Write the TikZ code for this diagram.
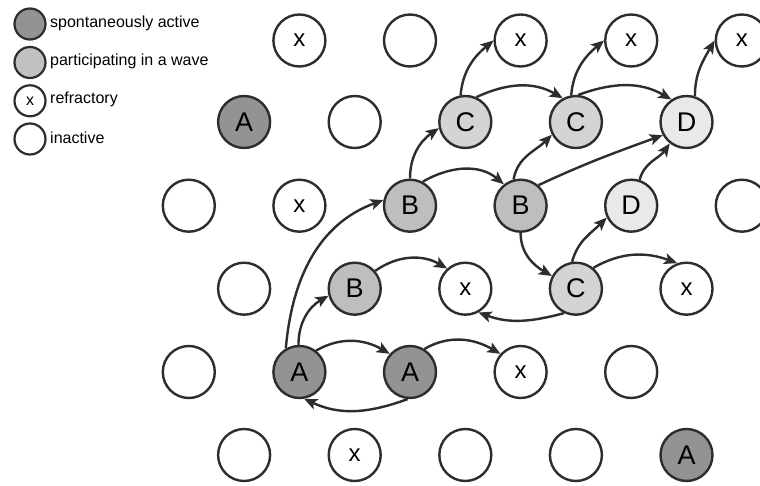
\documentclass[tikz,border=0pt]{standalone}
\usepackage{fontspec}
\setmainfont{Liberation Sans}
\usetikzlibrary{arrows.meta}
\definecolor{strokec}{RGB}{45,45,45}
\definecolor{colA}{RGB}{147,147,147}
\definecolor{colB}{RGB}{190,190,190}
\definecolor{colC}{RGB}{212,212,212}
\definecolor{colD}{RGB}{233,233,233}
\definecolor{colL}{RGB}{193,193,193}
\tikzset{
  cell/.style={circle,draw=strokec,line width=2.4pt,minimum size=52pt,inner sep=0pt,fill=white,font=\fontsize{27}{27}\selectfont},
  sA/.style={cell,fill=colA},
  sB/.style={cell,fill=colB},
  sC/.style={cell,fill=colC},
  sD/.style={cell,fill=colD},
  sX/.style={cell,font=\fontsize{24}{24}\selectfont},
  lcell/.style={circle,draw=strokec,line width=2.2pt,minimum size=31pt,inner sep=0pt,fill=white,font=\fontsize{16}{16}\selectfont},
  ltext/.style={anchor=west,inner sep=0pt,font=\fontsize{16}{19}\selectfont},
  arr/.style={draw=strokec,line width=2.4pt,-{Stealth[length=13pt,width=11pt,inset=3pt]}}
}
\begin{document}
\begin{tikzpicture}[x=1pt,y=1pt]
\clip (0,0) rectangle (760,485);
\fill[white] (0,0) rectangle (760,485);
% legend
\node[lcell,fill=colA] (l1) at (30,461) {};
\node[lcell,fill=colL] (l2) at (30,422.5) {};
\node[lcell] (l3) at (30,384.2) {x};
\node[lcell] (l4) at (30,346) {};
\node[ltext] (t1) at (50,462) {spontaneously active};
\node[ltext] (t2) at (50,423.5) {participating in a wave};
\node[ltext] (t3) at (50,385.2) {refractory};
\node[ltext] (t4) at (50,347) {inactive};
% row 0
\node[sX] (x02) at (299.4,444.5) {x};
\node[cell] (n04) at (410.0,444.5) {};
\node[sX] (x06) at (520.6,444.5) {x};
\node[sX] (x08) at (631.2,444.5) {x};
\node[sX] (x010) at (741.8,444.5) {x};
% row 1
\node[sA] (a11) at (244.1,363) {A};
\node[cell] (n13) at (354.7,363) {};
\node[sC] (c15) at (465.3,363) {C};
\node[sC] (c17) at (575.9,363) {C};
\node[sD] (d19) at (686.5,363) {D};
% row 2
\node[cell] (n20) at (188.8,279.3) {};
\node[sX] (x22) at (299.4,279.3) {x};
\node[sB] (b24) at (410.0,279.3) {B};
\node[sB] (b26) at (520.6,279.3) {B};
\node[sD] (d28) at (631.2,279.3) {D};
\node[cell] (n210) at (741.8,279.3) {};
% row 3
\node[cell] (n31) at (244.1,196.3) {};
\node[sB] (b33) at (354.7,196.3) {B};
\node[sX] (x35) at (465.3,196.3) {x};
\node[sC] (c37) at (575.9,196.3) {C};
\node[sX] (x39) at (686.5,196.3) {x};
% row 4
\node[cell] (n40) at (188.8,113) {};
\node[sA] (a42) at (299.4,113) {A};
\node[sA] (a44) at (410.0,113) {A};
\node[sX] (x46) at (520.6,113) {x};
\node[cell] (n48) at (631.2,113) {};
% row 5
\node[cell] (n51) at (244.1,30) {};
\node[sX] (x53) at (354.7,30) {x};
\node[cell] (n55) at (465.3,30) {};
\node[cell] (n57) at (575.9,30) {};
\node[sA] (a59) at (686.5,30) {A};
% connectors
\draw[arr] (a42.52) to[out=30,in=150] (a44.138);
\draw[arr] (a44.-95) to[out=-160,in=-25] (a42.-80);
\draw[arr] (a44.58) to[out=30,in=150] (x46.138);
\draw[arr] (a42.92) to[out=90,in=-150] (b33.-165);
\draw[arr] (a42.120) to[out=85,in=-160] (b24.168);
\draw[arr] (b33.41) to[out=35,in=150] (x35.132);
\draw[arr] (b24.90) to[out=90,in=-145] (c15.-167);
\draw[arr] (b24.62) to[out=30,in=140] (b26.128);
\draw[arr] (c15.100) to[out=85,in=-140] (x06.180);
\draw[arr] (c17.100) to[out=85,in=-140] (x08.180);
\draw[arr] (d19.72) to[out=90,in=-120] (x010.180);
\draw[arr] (c15.66) to[out=25,in=150] (c17.119);
\draw[arr] (b26.105) to[out=80,in=-135] (c17.-152);
\draw[arr] (c17.85) to[out=20,in=150] (d19.124);
\draw[arr] (b26.49) to[out=25,in=-160] (d19.-151);
\draw[arr] (b26.-90) to[out=-90,in=150] (c37.152);
\draw[arr] (c37.98) to[out=75,in=-135] (d28.-154);
\draw[arr] (d28.72) to[out=75,in=-125] (d19.-128);
\draw[arr] (c37.50) to[out=30,in=160] (x39.110);
\draw[arr] (c37.-116) to[out=-165,in=-20] (x35.-61);
\end{tikzpicture}
\end{document}
